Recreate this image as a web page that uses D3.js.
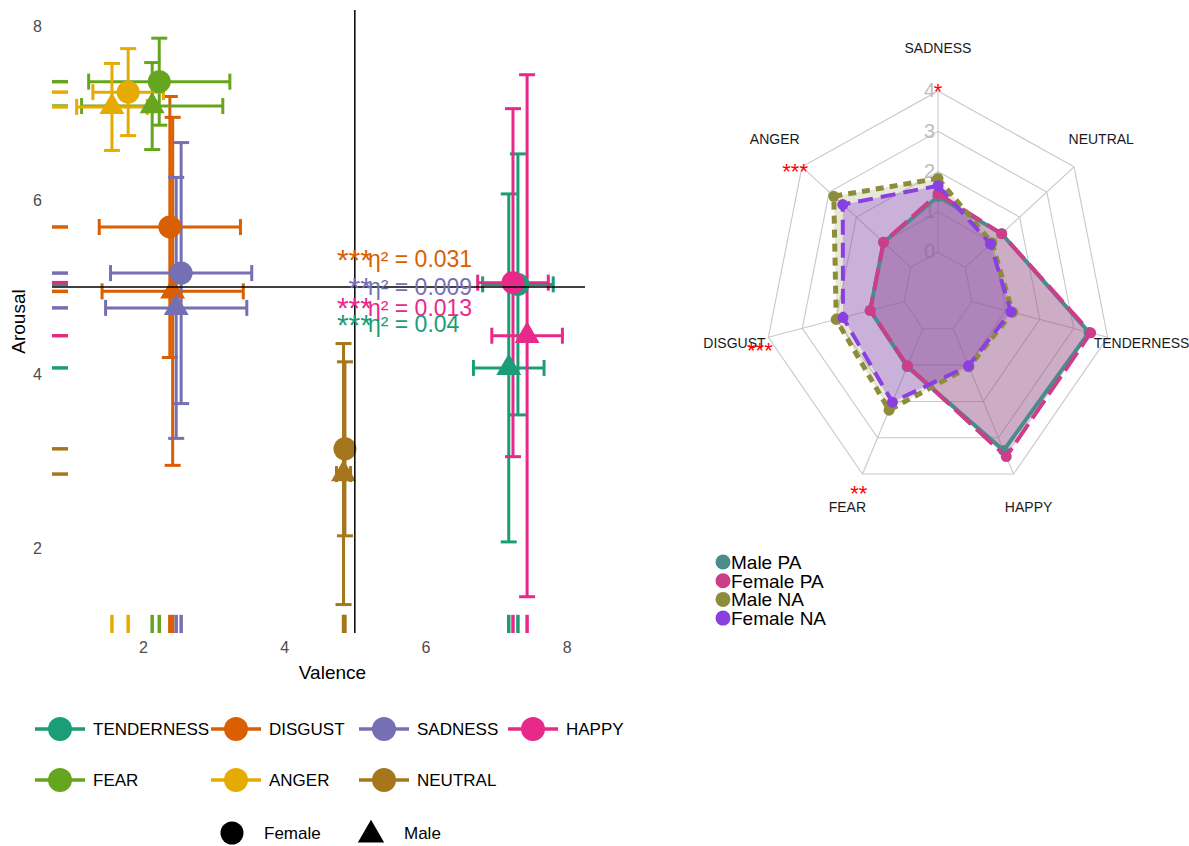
<!DOCTYPE html>
<html>
<head>
<meta charset="utf-8">
<script src="https://cdn.jsdelivr.net/npm/d3@7"></script>
<style>
  body { margin: 0; background: #fff; }
  svg { display: block; font-family: "Liberation Sans", Arial, sans-serif; }
</style>
</head>
<body>
<div id="chart-area"></div>
<script>
// ---- scatter data (means and error half-widths) ----
var emotions = ["TENDERNESS", "DISGUST", "SADNESS", "HAPPY", "FEAR", "ANGER", "NEUTRAL"];
var emotionColors = ["#1B9E77", "#D95F02", "#7570B3", "#E7298A", "#66A61E", "#E6AB02", "#A6761D"];

var femaleValence = [7.31, 2.38, 2.54, 7.24, 2.23, 1.79, 4.86];
var femaleValenceErr = [0.5, 1.0, 1.0, 0.5, 1.0, 0.5, 0.1];
var femaleArousal = [5.03, 5.69, 5.16, 5.05, 7.36, 7.24, 3.14];
var femaleArousalErr = [1.5, 1.5, 1.5, 2.0, 0.5, 0.5, 1.0];

var maleValence = [7.18, 2.42, 2.47, 7.44, 2.13, 1.56, 4.84];
var maleValenceErr = [0.5, 1.0, 1.0, 0.5, 1.0, 0.5, 0.1];
var maleArousal = [4.07, 4.95, 4.76, 4.44, 7.08, 7.07, 2.85];
var maleArousalErr = [2.0, 2.0, 1.5, 3.0, 0.5, 0.5, 1.5];

var xTicks = [2, 4, 6, 8];
var yTicks = [2, 4, 6, 8];

// effect size labels
var effectEmotions = ["DISGUST", "SADNESS", "HAPPY", "TENDERNESS"];
var effectStars = ["***", "**", "***", "***"];
var effectEta = ["0.031", "0.009", "0.013", "0.04"];
var effectArousal = [5.32, 5.0, 4.76, 4.57];
var effectValence = 5.2;

// ---- radar data ----
var radarAxes = ["SADNESS", "NEUTRAL", "TENDERNESS", "HAPPY", "FEAR", "DISGUST", "ANGER"];
var radarStars = ["*", "", "", "", "**", "***", "***"];
var radarTicks = [0, 1, 2, 3, 4];
var radarGroups = ["Male PA", "Female PA", "Male NA", "Female NA"];
var radarColors = ["#4A8C8C", "#CC3D8A", "#8C8C3C", "#8A3FE0"];
var radarFillOpacity = [0.28, 0.3, 0.2, 0.32];
var radarDash = ["none", "22,7", "8,6", "15,8"];
var malePA = [1.38, 1.34, 3.45, 3.35, 1.04, 1.0, 1.0];
var femalePA = [1.45, 1.34, 3.5, 3.52, 1.02, 1.0, 1.0];
var maleNA = [1.83, 0.98, 1.2, 1.05, 2.24, 2.0, 2.83];
var femaleNA = [1.65, 0.93, 1.15, 1.02, 2.02, 1.8, 2.5];
var radarValues = [malePA, femalePA, maleNA, femaleNA];

var svg = d3.select("#chart-area")
  .append("svg")
  .attr("width", 1189)
  .attr("height", 846);

// =================== left panel ===================
var margin = { left: 52, top: 10 };
var width = 533;
var height = 623;

var g = svg.append("g")
  .attr("transform", "translate(" + margin.left + ", " + margin.top + ")");

var x = d3.scaleLinear().domain([0.711, 8.26]).range([0, width]);
var y = d3.scaleLinear().domain([1.023, 8.184]).range([height, 0]);

var points = [];
emotions.forEach(function(e, i) {
  points.push({ emotion: e, color: emotionColors[i], sex: "Female",
    v: femaleValence[i], ve: femaleValenceErr[i], a: femaleArousal[i], ae: femaleArousalErr[i] });
  points.push({ emotion: e, color: emotionColors[i], sex: "Male",
    v: maleValence[i], ve: maleValenceErr[i], a: maleArousal[i], ae: maleArousalErr[i] });
});

var xAxisGroup = g.append("g")
  .attr("transform", "translate(0, " + height + ")")
  .call(d3.axisBottom(x).tickValues(xTicks).tickSize(0).tickPadding(9));
var yAxisGroup = g.append("g")
  .call(d3.axisLeft(y).tickValues(yTicks).tickSize(0).tickPadding(10));
[xAxisGroup, yAxisGroup].forEach(function(ax) {
  ax.select(".domain").remove();
  ax.selectAll("text")
    .attr("fill", "#4D4D4D")
    .style("font-size", "16px")
    .style("font-family", "Liberation Sans, Arial, sans-serif");
});

g.append("text")
  .attr("x", width / 2 + 14)
  .attr("y", 669)
  .attr("text-anchor", "middle")
  .style("font-size", "19px")
  .text("Valence");

g.append("text")
  .attr("transform", "translate(-27, " + (height / 2) + ") rotate(-90)")
  .attr("text-anchor", "middle")
  .style("font-size", "19px")
  .text("Arousal");

// rugs
var rugX = height * 0.03 - 0.5;
var rugY = width * 0.03;
g.selectAll(".rug-x")
  .data(points)
  .enter().append("line")
  .attr("x1", function(d) { return x(d.v); })
  .attr("x2", function(d) { return x(d.v); })
  .attr("y1", height)
  .attr("y2", height - rugX)
  .attr("stroke", function(d) { return d.color; })
  .attr("stroke-width", 3.5);

g.selectAll(".rug-y")
  .data(points)
  .enter().append("line")
  .attr("x1", 0)
  .attr("x2", rugY)
  .attr("y1", function(d) { return y(d.a); })
  .attr("y2", function(d) { return y(d.a); })
  .attr("stroke", function(d) { return d.color; })
  .attr("stroke-width", 3.5);

// error bars and points
var cap = 8;
var triangle = d3.symbol().type(d3.symbolTriangle).size(270);

points.forEach(function(d) {
  var eg = g.append("g")
    .attr("stroke", d.color)
    .attr("fill", d.color)
    .attr("stroke-width", 3);
  var cx = x(d.v), cy = y(d.a);
  var y0 = y(d.a - d.ae), y1 = y(d.a + d.ae);
  var x0 = x(d.v - d.ve), x1 = x(d.v + d.ve);
  eg.append("line").attr("x1", cx).attr("x2", cx).attr("y1", y0).attr("y2", y1);
  eg.append("line").attr("x1", cx - cap).attr("x2", cx + cap).attr("y1", y0).attr("y2", y0);
  eg.append("line").attr("x1", cx - cap).attr("x2", cx + cap).attr("y1", y1).attr("y2", y1);
  eg.append("line").attr("x1", x0).attr("x2", x1).attr("y1", cy).attr("y2", cy);
  eg.append("line").attr("x1", x0).attr("x2", x0).attr("y1", cy - cap).attr("y2", cy + cap);
  eg.append("line").attr("x1", x1).attr("x2", x1).attr("y1", cy - cap).attr("y2", cy + cap);
});

points.forEach(function(d) {
  if (d.sex === "Female") {
    g.append("circle")
      .attr("cx", x(d.v)).attr("cy", y(d.a)).attr("r", 11.5)
      .attr("fill", d.color);
  } else {
    g.append("path")
      .attr("d", triangle)
      .attr("transform", "translate(" + x(d.v) + "," + y(d.a) + ")")
      .attr("fill", d.color);
  }
});

// reference lines at the midpoint
g.append("line")
  .attr("x1", 0).attr("x2", width)
  .attr("y1", y(5)).attr("y2", y(5))
  .attr("stroke", "#000").attr("stroke-width", 1.5);
g.append("line")
  .attr("x1", x(5)).attr("x2", x(5))
  .attr("y1", 0).attr("y2", height)
  .attr("stroke", "#000").attr("stroke-width", 1.5);

// effect labels
effectEmotions.forEach(function(e, i) {
  var col = emotionColors[emotions.indexOf(e)];
  g.append("text")
    .attr("x", x(effectValence) + 3)
    .attr("y", y(effectArousal[i]))
    .attr("dy", "0.35em")
    .attr("text-anchor", "end")
    .attr("fill", col)
    .style("font-size", "30px")
    .text(effectStars[i]);
  g.append("text")
    .attr("x", x(effectValence) - 1)
    .attr("y", y(effectArousal[i]))
    .attr("dy", "0.35em")
    .attr("fill", col)
    .style("font-size", "23px")
    .text("\u03b7\u00b2 = " + effectEta[i]);
});

// legend: emotions
var legendCols = [60, 236, 384, 533];
var legendRows = [729, 780];
emotions.forEach(function(e, i) {
  var cx = legendCols[i < 4 ? i : i - 4];
  var cy = legendRows[i < 4 ? 0 : 1];
  svg.append("line")
    .attr("x1", cx - 25).attr("x2", cx + 25)
    .attr("y1", cy).attr("y2", cy)
    .attr("stroke", emotionColors[i]).attr("stroke-width", 3.5);
  svg.append("circle")
    .attr("cx", cx).attr("cy", cy).attr("r", 12)
    .attr("fill", emotionColors[i]);
  svg.append("text")
    .attr("x", cx + 33).attr("y", cy)
    .attr("dy", "0.35em")
    .style("font-size", "17px")
    .text(e);
});

// legend: sex
svg.append("circle").attr("cx", 232).attr("cy", 833).attr("r", 11.5).attr("fill", "#000");
svg.append("text").attr("x", 264).attr("y", 833).attr("dy", "0.35em")
  .style("font-size", "17px").text("Female");
svg.append("path")
  .attr("d", d3.symbol().type(d3.symbolTriangle).size(300))
  .attr("transform", "translate(371, 835)")
  .attr("fill", "#000");
svg.append("text").attr("x", 404).attr("y", 833).attr("dy", "0.35em")
  .style("font-size", "17px").text("Male");

// =================== radar ===================
var rc = { x: 938, y: 292.5, rx: 174, ry: 201.5 };
var r = d3.scaleLinear().domain([-1, 4]).range([0, 1]);
var n = radarAxes.length;

function radarPoint(i, frac) {
  var ang = i * 2 * Math.PI / n;
  return [rc.x + rc.rx * frac * Math.sin(ang), rc.y - rc.ry * frac * Math.cos(ang)];
}

var rg = svg.append("g");

// rings and spokes
radarTicks.forEach(function(t) {
  var pts = radarAxes.map(function(a, i) { return radarPoint(i, r(t)); });
  rg.append("path")
    .attr("d", d3.line().curve(d3.curveLinearClosed)(pts))
    .attr("fill", "none")
    .attr("stroke", "#C8C8C8")
    .attr("stroke-width", 1.1);
});
radarAxes.forEach(function(a, i) {
  var p0 = radarPoint(i, r(0)), p1 = radarPoint(i, r(4));
  rg.append("line")
    .attr("x1", p0[0]).attr("y1", p0[1]).attr("x2", p1[0]).attr("y2", p1[1])
    .attr("stroke", "#C8C8C8").attr("stroke-width", 1.1);
});
radarTicks.forEach(function(t) {
  var p = radarPoint(0, r(t));
  rg.append("text")
    .attr("x", p[0] - 3).attr("y", p[1] - 1)
    .attr("dy", "0.36em")
    .attr("text-anchor", "end")
    .attr("fill", "#BDBDBD")
    .style("font-size", "20px")
    .text(t);
});

// fills
radarValues.forEach(function(vals, gi) {
  var pts = vals.map(function(v, i) { return radarPoint(i, r(v)); });
  rg.append("path")
    .attr("d", d3.line().curve(d3.curveLinearClosed)(pts))
    .attr("fill", radarColors[gi])
    .attr("fill-opacity", radarFillOpacity[gi])
    .attr("stroke", "none");
});

// outlines and dots
radarValues.forEach(function(vals, gi) {
  var pts = vals.map(function(v, i) { return radarPoint(i, r(v)); });
  rg.append("path")
    .attr("d", d3.line().curve(d3.curveLinearClosed)(pts))
    .attr("fill", "none")
    .attr("stroke", radarColors[gi])
    .attr("stroke-width", gi === 2 ? 5 : 4)
    .attr("stroke-dasharray", radarDash[gi]);
  rg.selectAll(null)
    .data(pts)
    .enter().append("circle")
    .attr("cx", function(p) { return p[0]; })
    .attr("cy", function(p) { return p[1]; })
    .attr("r", 5.5)
    .attr("fill", radarColors[gi]);
});

// axis labels and significance
radarAxes.forEach(function(a, i) {
  var p = radarPoint(i, 1.2);
  rg.append("text")
    .attr("x", p[0]).attr("y", p[1] - 3)
    .attr("dy", "0.35em")
    .attr("text-anchor", "middle")
    .attr("fill", "#1A1A1A")
    .style("font-size", "14px")
    .text(a);
  if (radarStars[i]) {
    var s = radarPoint(i, 1.05);
    rg.append("text")
      .attr("x", s[0]).attr("y", s[1] + 18)
      .attr("text-anchor", "middle")
      .attr("fill", "#FF0000")
      .style("font-size", "22px")
      .text(radarStars[i]);
  }
});

// radar legend
radarGroups.forEach(function(name, i) {
  var ly = 562 + i * 18.7;
  svg.append("circle").attr("cx", 723).attr("cy", ly).attr("r", 7.5).attr("fill", radarColors[i]);
  svg.append("text").attr("x", 731).attr("y", ly).attr("dy", "0.36em")
    .style("font-size", "19px").attr("fill", "#000").text(name);
});
</script>
</body>
</html>
